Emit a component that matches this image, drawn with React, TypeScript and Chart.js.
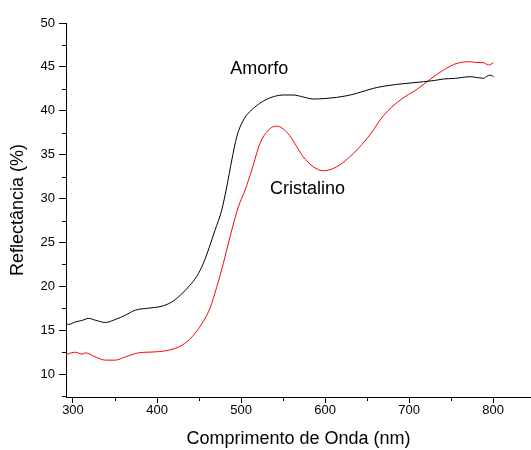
import React, { useEffect, useRef } from "react";
import { Chart, registerables } from "chart.js";

Chart.register(...registerables);

const amorfoNm = [291.7, 294.9, 302.8, 310, 318.7, 326.6, 338.5, 350.4, 362.3, 374.2, 390.1, 406, 417.9, 427.8, 439.3, 447, 455, 462, 469, 477, 483, 489, 494.9, 502.8, 514.7, 528.6, 540, 550, 562, 575, 586, 600, 613.9, 625, 637.7, 657.5, 670, 685.3, 700, 717, 730, 740.8, 755, 772.6, 780, 788.4, 792, 796.4, 800.4];
const amorfoR = [15.85, 15.66, 15.96, 16.1, 16.35, 16.15, 15.89, 16.23, 16.72, 17.29, 17.52, 17.75, 18.24, 19.0, 20.14, 21.1, 22.6, 24.4, 26.4, 28.69, 31.35, 34.4, 37.04, 38.95, 40.28, 41.22, 41.65, 41.8, 41.8, 41.55, 41.34, 41.4, 41.53, 41.7, 41.99, 42.56, 42.8, 43.01, 43.15, 43.31, 43.45, 43.62, 43.7, 43.88, 43.8, 43.7, 43.9, 44.07, 43.88];

const cristNm = [291.7, 302.8, 310.7, 314.7, 326.6, 338.5, 350.4, 362.3, 378.2, 398, 413.9, 429.8, 441.7, 453.6, 463, 471, 478.9, 486.9, 496.8, 504.8, 512.7, 522.6, 532.5, 542.5, 550, 558, 566, 574, 586, 598, 613.9, 633.7, 653.6, 669.4, 689.3, 709.2, 725, 740.8, 756.8, 772.6, 780, 788.4, 794.4, 800.4];
const cristR = [12.24, 12.5, 12.28, 12.43, 11.97, 11.6, 11.6, 11.97, 12.43, 12.54, 12.73, 13.3, 14.25, 15.78, 17.5, 19.9, 22.6, 25.65, 29.07, 30.97, 33.25, 36.29, 37.8, 38.26, 37.95, 37.15, 35.95, 34.76, 33.62, 33.17, 33.62, 35.15, 37.3, 39.45, 41.22, 42.44, 43.58, 44.64, 45.4, 45.59, 45.5, 45.48, 45.21, 45.48];

const xMajor = [300, 400, 500, 600, 700, 800];
const xMinor = [350, 450, 550, 650, 750];
const yMajor = [10, 15, 20, 25, 30, 35, 40, 45, 50];
const yMinor = [7.5, 12.5, 17.5, 22.5, 27.5, 32.5, 37.5, 42.5, 47.5];

const labels = [
  { text: "Amorfo", x: 487, y: 44.7 },
  { text: "Cristalino", x: 534.5, y: 31.1 },
];

const FONT = "'Liberation Sans', Arial, sans-serif";

export default function App() {
  const ref = useRef<HTMLCanvasElement>(null);
  useEffect(() => {
    const canvas = ref.current!;
    const extras = {
      id: "extras",
      afterDraw(chart: any) {
        const ctx = chart.ctx;
        const xs = chart.scales.x;
        const ys = chart.scales.y;
        ctx.save();
        ctx.strokeStyle = "#000";
        ctx.lineWidth = 1;
        ctx.beginPath();
        const bottom = chart.chartArea.bottom;
        const left = chart.chartArea.left;
        xMinor.forEach((v) => {
          const px = Math.round(xs.getPixelForValue(v)) + 0.5;
          ctx.moveTo(px, bottom);
          ctx.lineTo(px, bottom + 4);
        });
        yMinor.forEach((v) => {
          const py = Math.round(ys.getPixelForValue(v)) + 0.5;
          ctx.moveTo(left, py);
          ctx.lineTo(left - 4, py);
        });
        ctx.stroke();
        ctx.fillStyle = "#000";
        ctx.font = `18px ${FONT}`;
        ctx.textAlign = "left";
        ctx.textBaseline = "middle";
        labels.forEach((l) => {
          ctx.fillText(l.text, xs.getPixelForValue(l.x), ys.getPixelForValue(l.y));
        });
        ctx.restore();
      },
    };
    const chart = new Chart(canvas, {
      type: "line",
      data: {
        datasets: [
          {
            label: "Amorfo",
            data: amorfoNm.map((x, i) => ({ x, y: amorfoR[i] })),
            borderColor: "#000000",
            borderWidth: 1,
            pointRadius: 0,
            cubicInterpolationMode: "monotone",
          },
          {
            label: "Cristalino",
            data: cristNm.map((x, i) => ({ x, y: cristR[i] })),
            borderColor: "#ff0000",
            borderWidth: 1,
            pointRadius: 0,
            cubicInterpolationMode: "monotone",
          },
        ],
      },
      options: {
        animation: false,
        responsive: false,
        layout: { padding: { top: 23, right: 0, left: 0, bottom: 0 } },
        plugins: { legend: { display: false }, tooltip: { enabled: false } },
        scales: {
          x: {
            type: "linear",
            min: 291.7,
            max: 845,
            afterBuildTicks: (s: any) => {
              s.ticks = xMajor.map((v) => ({ value: v }));
            },
            afterFit: (s: any) => {
              s.height = 53;
            },
            grid: { drawOnChartArea: false, drawTicks: true, tickLength: 6, tickColor: "#000" },
            border: { display: true, color: "#000", width: 1 },
            ticks: { color: "#000", font: { family: FONT, size: 13 }, padding: 0, maxRotation: 0 },
            title: {
              display: true,
              text: "Comprimento de Onda (nm)",
              color: "#000",
              font: { family: FONT, size: 18 },
              padding: { top: 0, bottom: 0 },
            },
          },
          y: {
            type: "linear",
            min: 7.4,
            max: 50,
            afterBuildTicks: (s: any) => {
              s.ticks = yMajor.map((v) => ({ value: v }));
            },
            afterFit: (s: any) => {
              s.width = 66;
            },
            grid: { drawOnChartArea: false, drawTicks: true, tickLength: 7, tickColor: "#000" },
            border: { display: true, color: "#000", width: 1 },
            ticks: { color: "#000", font: { family: FONT, size: 13 }, padding: 4 },
            title: {
              display: true,
              text: "Reflectância (%)",
              color: "#000",
              font: { family: FONT, size: 18 },
              padding: { top: 7, bottom: 0 },
            },
          },
        },
      },
      plugins: [extras],
    });
    return () => chart.destroy();
  }, []);
  return (
    <div style={{ position: "absolute", left: 0, top: 0, width: 531, height: 450, background: "#fff" }}>
      <canvas ref={ref} width={531} height={450} style={{ width: 531, height: 450, display: "block" }} />
    </div>
  );
}
